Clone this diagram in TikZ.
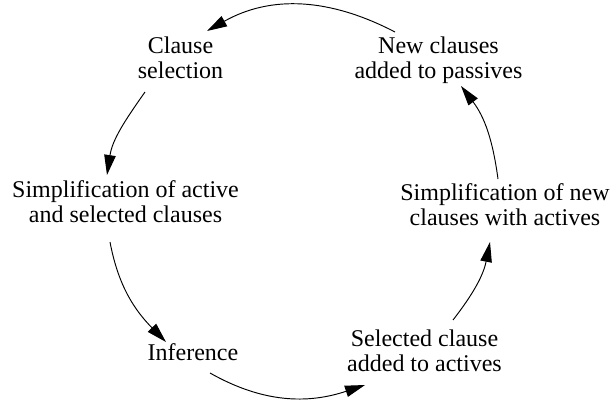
\documentclass[tikz,border=0pt]{standalone}
\usepackage{fontspec}
\setmainfont{Liberation Serif}
\usetikzlibrary{arrows.meta}
\begin{document}
\begin{tikzpicture}[x=1pt,y=1pt,
  lbl/.style={font=\fontsize{24}{25}\selectfont, align=center, inner sep=0pt},
  flow/.style={line width=0.95pt, -{Triangle[length=20pt,width=11.5pt]}}]
\useasboundingbox (0,0) rectangle (612,-402);
\node[lbl] (cs)  at (180.5,-57.7)  {Clause\\selection};
\node[lbl] (ns)  at (438.5,-60.3)  {New clauses\\added to passives};
\node[lbl] (sa)  at (125.5,-201.7) {Simplification of active\\and selected clauses};
\node[lbl] (sn)  at (505,-204.7)   {Simplification of new\\clauses with actives};
\node[lbl] (inf) at (193,-352.2)   {Inference};
\node[lbl] (sc)  at (424.5,-350.7) {Selected clause\\added to actives};
\draw[flow] ([shift={(-43.5pt,28.3pt)}]ns.center) to[out=152.5,in=29.4] ([shift={(26.5pt,26.7pt)}]cs.center);
\draw[flow] ([shift={(-35.5pt,-34.3pt)}]cs.center) to[out=234.8,in=81.4] ([shift={(-18.5pt,26.7pt)}]sa.center);
\draw[flow] ([shift={(-15.5pt,-40.3pt)}]sa.center) to[out=280.7,in=134.6] ([shift={(-27pt,10.2pt)}]inf.center);
\draw[flow] ([shift={(17pt,-20.8pt)}]inf.center) to[out=330.5,in=198.4] ([shift={(-59.5pt,-34.3pt)}]sc.center);
\draw[flow] ([shift={(28.5pt,30.7pt)}]sc.center) to[out=52.2,in=258.7] ([shift={(-15pt,-37.3pt)}]sn.center);
\draw[flow] ([shift={(-7pt,25.7pt)}]sn.center) to[out=97.7,in=307.3] ([shift={(22.5pt,-25.7pt)}]ns.center);
\end{tikzpicture}
\end{document}
